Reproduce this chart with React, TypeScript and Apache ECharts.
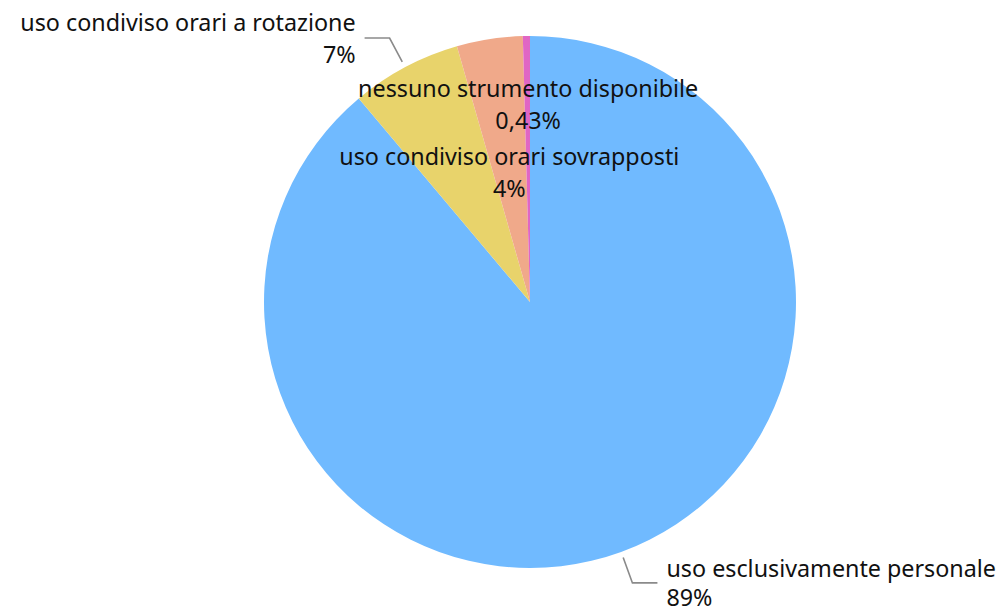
import React, { useEffect, useRef } from "react";
import * as echarts from "echarts";

const categories = [
  "uso esclusivamente personale",
  "uso condiviso orari a rotazione",
  "uso condiviso orari sovrapposti",
  "nessuno strumento disponibile",
];
const values = [88.87, 6.7, 4.0, 0.43];
const colors = ["#70BAFF", "#E8D36B", "#F0A98A", "#E066C4"];

function fmtPct(v: number): string {
  if (v < 1) return v.toFixed(2).replace(".", ",") + "%";
  return Math.round(v) + "%";
}

export default function App() {
  const ref = useRef<HTMLDivElement>(null);
  useEffect(() => {
    if (!ref.current) return;
    const chart = echarts.init(ref.current, null, { renderer: "svg" });
    const total = values.reduce((a, b) => a + b, 0);
    const data = categories.map((name, i) => {
      const item: any = {
        name,
        value: values[i],
        itemStyle: { color: colors[i] },
      };
      if (i === 0) {
        item.label = { lineHeight: 29 };
      }
      if (i === 2 || i === 3) {
        item.label = { position: "inside" };
        item.labelLine = { show: false };
      }
      return item;
    });
    chart.setOption({
      animation: false,
      backgroundColor: "#ffffff",
      series: [
        {
          type: "pie",
          center: [530, 302],
          radius: 266,
          startAngle: 90,
          clockwise: true,
          avoidLabelOverlap: false,
          data,
          labelLayout: (p: any) => {
            if (p.dataIndex === 3) return { dy: -62 };
            if (p.dataIndex === 2) return { dy: 4 };
            const pts = p.labelLinePoints;
            if (!pts || pts.length < 3) return {};
            const a = pts[0];
            const b = pts[1];
            const c = pts[2];
            const dx = b[0] - a[0];
            const dy = b[1] - a[1];
            const L = Math.hypot(dx, dy) || 1;
            const g = 6;
            return {
              labelLinePoints: [
                [a[0] + (dx / L) * g, a[1] + (dy / L) * g],
                [b[0], b[1]],
                [c[0], c[1]],
              ],
            };
          },
          label: {
            show: true,
            formatter: (p: any) => p.name + "\n" + fmtPct((p.value / total) * 100),
            fontFamily: "Noto Sans",
            fontSize: 23.3,
            lineHeight: 32,
            color: "#111111",
            distanceToLabelLine: 9,
          },
          labelLine: {
            show: true,
            length: 33,
            length2: 25,
            lineStyle: { color: "#8a8a8a", width: 1.6 },
          },
        },
      ],
    });
    return () => chart.dispose();
  }, []);
  return (
    <div
      ref={ref}
      style={{ position: "fixed", left: 0, top: 0, width: 1000, height: 613 }}
    />
  );
}
